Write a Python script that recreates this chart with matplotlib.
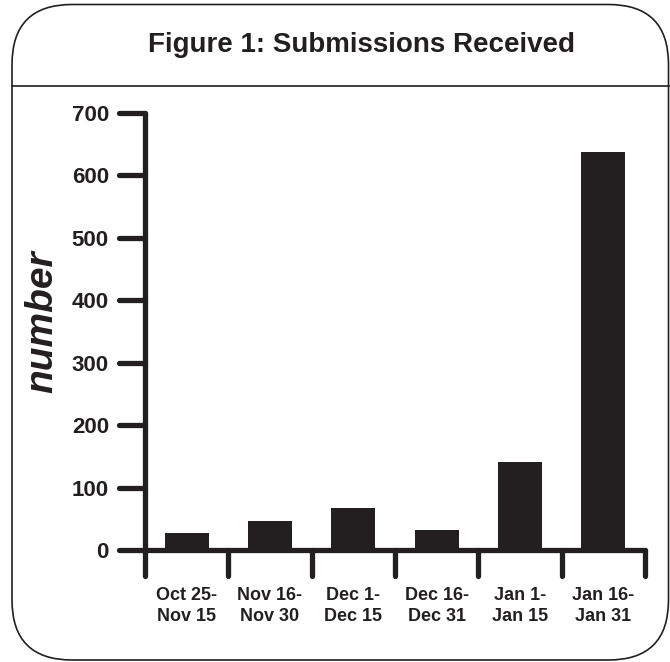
import matplotlib
matplotlib.use('Agg')
import matplotlib.pyplot as plt
from matplotlib.patches import FancyBboxPatch
from matplotlib.lines import Line2D
from matplotlib.markers import MarkerStyle, TICKLEFT, TICKDOWN
import numpy as np

periods = ['Oct 25-\nNov 15', 'Nov 16-\nNov 30', 'Dec 1-\nDec 15',
           'Dec 16-\nDec 31', 'Jan 1-\nJan 15', 'Jan 16-\nJan 31']
counts = [27, 47, 67, 32, 141, 637]
yticks = [0, 100, 200, 300, 400, 500, 600, 700]

ink = '#231f20'
plt.rcParams['font.family'] = ['Liberation Sans', 'DejaVu Sans']

W, H = 670, 662
fig = plt.figure(figsize=(W / 100, H / 100), dpi=100)

# background frame drawn in pixel units
bg = fig.add_axes([0, 0, 1, 1])
bg.set_xlim(0, W)
bg.set_ylim(H, 0)
bg.axis('off')
box = FancyBboxPatch((12, 4.5), 656.5, 655.5,
                     boxstyle='round,pad=0,rounding_size=60',
                     fc='white', ec=ink, lw=1.2)
bg.add_patch(box)
bg.add_line(Line2D([12, 668.5], [86, 86], color=ink, lw=1.2))
bg.text(361, 45, 'Figure 1: Submissions Received', ha='center', va='center',
        fontsize=20, fontweight='bold', color=ink)
bg.text(42, 322, 'number', rotation=90, ha='center', va='center',
        fontsize=28, fontweight='bold', fontstyle='italic', color=ink)

ax = fig.add_axes([145 / W, (H - 550) / H, 500 / W, 437 / H])
x = np.arange(len(periods))
ax.bar(x, counts, width=0.53, color=ink, zorder=3)

ax.set_xlim(-0.5, len(periods) - 0.5)
ax.set_ylim(0, 700)
ax.patch.set_visible(False)
for s in ['top', 'right']:
    ax.spines[s].set_visible(False)
for s in ['left', 'bottom']:
    ax.spines[s].set_linewidth(3.8)
    ax.spines[s].set_color(ink)
    ax.spines[s].set_capstyle('round')

ax.set_yticks(yticks)
ax.set_yticklabels([str(v) for v in yticks])
ax.tick_params(axis='y', length=19, width=3.8, color=ink, pad=7,
               labelsize=16, labelcolor=ink)
for lab in ax.get_yticklabels():
    lab.set_fontweight('bold')

ax.set_xticks(np.arange(-0.5, len(periods)))
ax.set_xticklabels([])
ax.tick_params(axis='x', which='major', length=19, width=3.8, color=ink)
ax.set_xticks(x, minor=True)
ax.set_xticklabels(periods, minor=True)
ax.tick_params(axis='x', which='minor', length=0, pad=27,
               labelsize=13, labelcolor=ink)
for lab in ax.get_xticklabels(minor=True):
    lab.set_fontweight('bold')
    lab.set_linespacing(1.3)

# rounded tick ends
for t in ax.yaxis.get_major_ticks():
    t.tick1line.set_marker(MarkerStyle(TICKLEFT, capstyle='round'))
for t in ax.xaxis.get_major_ticks():
    t.tick1line.set_marker(MarkerStyle(TICKDOWN, capstyle='round'))

fig.savefig('out.png', dpi=100)
